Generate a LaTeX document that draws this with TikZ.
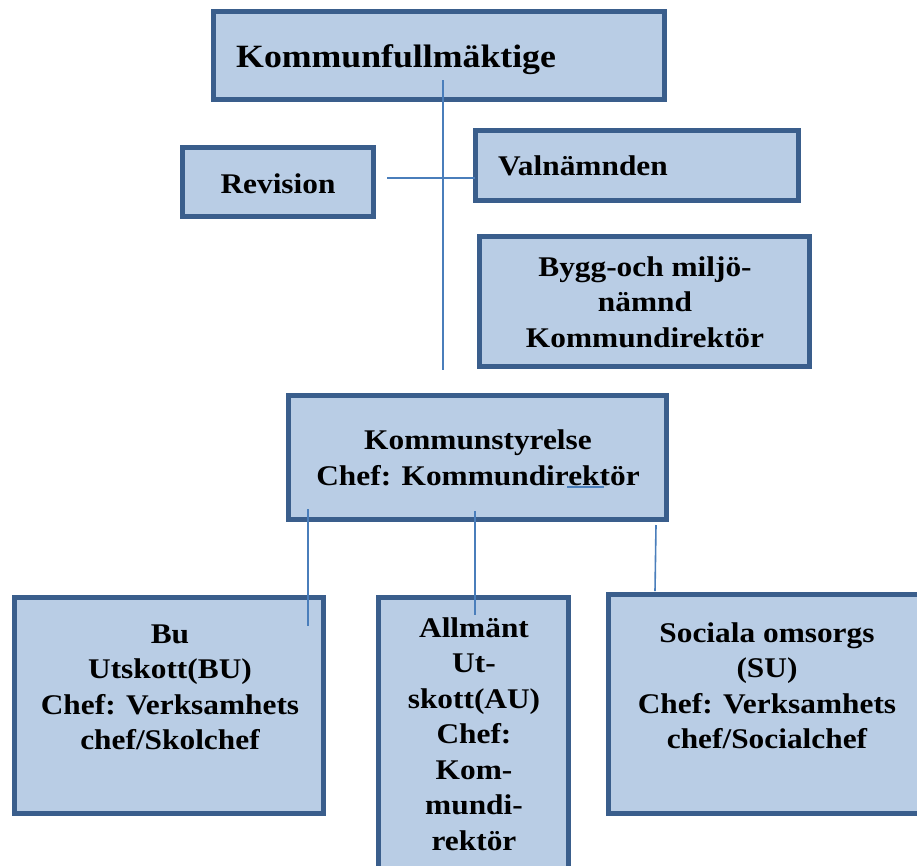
\documentclass[tikz,border=0pt]{standalone}
\usepackage{fontspec}
\setmainfont{Liberation Serif}[FakeStretch=1.10]
\begin{document}
\begin{tikzpicture}[x=1pt,y=-1pt,
  box/.style={draw=boxline,fill=boxfill,line width=5pt,rectangle,inner sep=0pt,outer sep=0pt},
  lbl/.style={font=\fontsize{28.5}{35.5}\selectfont\bfseries,inner sep=0pt,align=center,text=black},
  conn/.style={draw=connblue,line width=1.6pt}]
\definecolor{boxline}{HTML}{3A5E8C}
\definecolor{boxfill}{HTML}{B9CDE5}
\definecolor{connblue}{HTML}{4A7EBB}
\useasboundingbox (0,0) rectangle (917,865);
\clip (0,0) rectangle (917,865);
% boxes
\node[box,minimum width=451pt,minimum height=88pt] (kf) at (439,55.5) {};
\node[box,minimum width=191pt,minimum height=69pt] (rev) at (278,182) {};
\node[box,minimum width=323pt,minimum height=70pt] (val) at (637,165.5) {};
\node[box,minimum width=330pt,minimum height=130pt] (bygg) at (644.5,301.5) {};
\node[box,minimum width=378pt,minimum height=124pt] (ks) at (477.5,457.5) {};
\node[box,minimum width=309pt,minimum height=216pt] (bu) at (169,705.5) {};
\node[box,minimum width=190pt,minimum height=300pt] (au) at (473.5,747.5) {};
\node[box,minimum width=329pt,minimum height=219pt] (su) at (773,703.5) {};
% texts (base anchor = baseline of the last line)
\node[lbl,font=\fontsize{32.5}{38}\selectfont\bfseries,anchor=base west] (kft) at (236,67) {Kommunfullmäktige};
\node[lbl,anchor=base] (revt) at (278,193) {Revision};
\node[lbl,anchor=base west] (valt) at (498,175) {Valnämnden};
\node[lbl,anchor=base] (byggt) at (645,347) {Bygg-och miljö-\\nämnd\\Kommundirektör};
\node[lbl,anchor=base] (kst) at (478,485) {Kommunstyrelse\\Chef: Kommundirektör};
\node[lbl,anchor=base] (but) at (170,749.5) {Bu\\Utskott(BU)\\Chef: Verksamhets\\chef/Skolchef};
\node[lbl,anchor=base] (aut) at (474,850) {Allmänt\\Ut-\\skott(AU)\\Chef:\\Kom-\\mundi-\\rektör};
\node[lbl,anchor=base] (sut) at (767,748.5) {Sociala omsorgs\\(SU)\\Chef: Verksamhets\\chef/Socialchef};
% connectors
\coordinate (k1) at (443,80);
\coordinate (k2) at (443,370);
\coordinate (h1) at (387,178);
\coordinate (h2) at (475,178);
\coordinate (b1) at (308,509);
\coordinate (b2) at (308,626);
\coordinate (a1) at (475,511);
\coordinate (a2) at (475,615);
\coordinate (s1) at (656,525);
\coordinate (s2) at (655,591);
\coordinate (u1) at (567,487);
\coordinate (u2) at (604,487);
\draw[conn] (k1) -- (k2);
\draw[conn] (h1) -- (h2);
\draw[conn] (b1) -- (b2);
\draw[conn] (a1) -- (a2);
\draw[conn] (s1) -- (s2);
\draw[conn,line width=1.3pt] (u1) -- (u2);
\end{tikzpicture}
\end{document}
